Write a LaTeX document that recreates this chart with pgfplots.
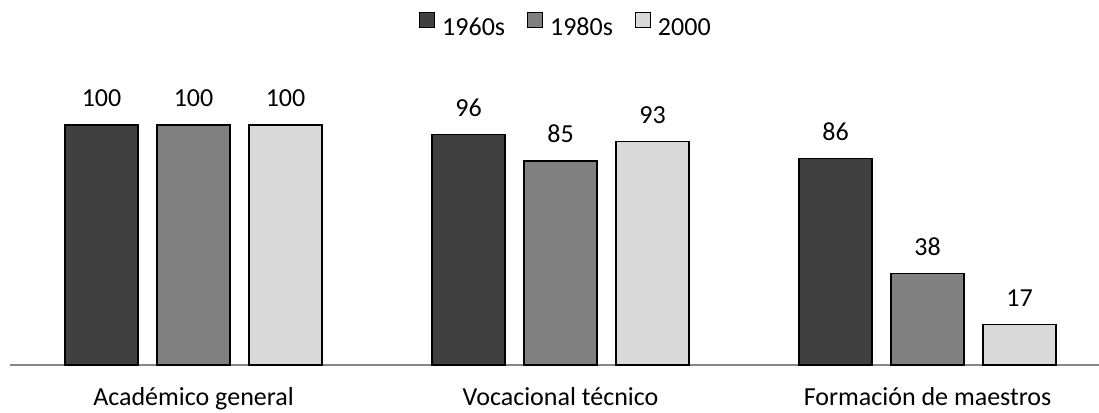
\documentclass[border=0pt]{standalone}
\usepackage{fontspec}
\setmainfont{Carlito}
\usepackage{pgfplots}
\pgfplotsset{compat=1.18}
\definecolor{c1}{HTML}{404040}
\definecolor{c2}{HTML}{808080}
\definecolor{c3}{HTML}{D9D9D9}
\definecolor{axisgray}{HTML}{868686}
\newcommand{\bigf}{\fontsize{26bp}{31bp}\selectfont}
\begin{document}
\begin{tikzpicture}
\useasboundingbox (0,0) rectangle (1099bp,413bp);
\begin{axis}[
  at={(10bp,48bp)}, anchor=south west,
  scale only axis, width=1089bp, height=240bp,
  xmin=-0.5, xmax=2.467, ymin=0, ymax=100,
  axis x line*=bottom, axis y line=none,
  x axis line style={draw=axisgray, line width=1.5bp, -},
  ytick=\empty,
  xtick={0,1,2},
  xticklabels={Académico general, Vocacional técnico, Formación de maestros},
  major tick length=0pt,
  xticklabel style={font=\bigf, anchor=base, inner sep=0pt, yshift=-40bp},
  /pgf/number format/assume math mode=true,
  ybar, bar width=73bp,
  clip=false,
  nodes near coords,
  every node near coord/.append style={font=\bigf, text=black, anchor=base, inner sep=0pt, yshift=18bp},
  legend image code/.code={\draw[#1, draw=black, line width=1bp] (0bp,0bp) rectangle (15bp,15bp);},
  legend style={at={(0.5096,1.419)}, anchor=center, draw=none, fill=none,
    legend columns=3, font=\bigf, nodes={inner sep=0pt},
    /tikz/every odd column/.append style={column sep=7bp},
    /tikz/every even column/.append style={column sep=22bp}},
]
\addplot[fill=c1, draw=black, line width=1.3bp, bar shift=-92bp] coordinates {(0,100) (1,96) (2,86)};
\addplot[fill=c2, draw=black, line width=1.3bp, bar shift=0bp] coordinates {(0,100) (1,85) (2,38)};
\addplot[fill=c3, draw=black, line width=1.3bp, bar shift=92bp] coordinates {(0,100) (1,93) (2,17)};
\legend{1960s, 1980s, 2000}
\end{axis}
\end{tikzpicture}
\end{document}
